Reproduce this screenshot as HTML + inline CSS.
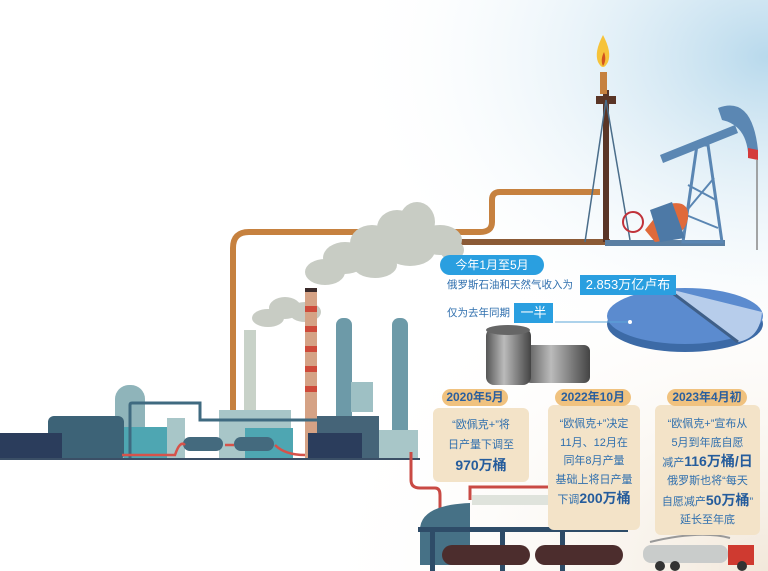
<!DOCTYPE html>
<html><head><meta charset="utf-8"><style>
html,body{margin:0;padding:0}
body{width:768px;height:571px;overflow:hidden;position:relative;font-family:"Liberation Sans","Noto Sans CJK SC",sans-serif;background:#fff}
.t{position:absolute;color:#2f6fae;white-space:nowrap}
.box{position:absolute;background:#f3e3c8;border-radius:6px}
.lab{position:absolute;background:#f0c27f;border-radius:10px;color:#2a5f9e;font-weight:bold;font-size:12px;text-align:center;line-height:17px}
.c{text-align:center;font-size:11px;line-height:18.5px}
b{font-size:14px;color:#255c9c}
</style></head><body>
<svg width="768" height="571" style="position:absolute;left:0;top:0">
<defs>
<radialGradient id="sky" cx="1" cy="0.1" r="0.55"><stop offset="0" stop-color="#b8d9ec"/><stop offset="1" stop-color="#fff" stop-opacity="0"/></radialGradient>
<radialGradient id="beige" cx="1" cy="1" r="0.6"><stop offset="0" stop-color="#f2e8da"/><stop offset="1" stop-color="#fff" stop-opacity="0"/></radialGradient>
<linearGradient id="bar" x1="0" y1="0" x2="1" y2="0"><stop offset="0" stop-color="#555"/><stop offset="0.4" stop-color="#bbb"/><stop offset="1" stop-color="#444"/></linearGradient>
</defs>
<rect x="0" y="0" width="768" height="571" fill="url(#beige)"/>
<rect x="0" y="0" width="768" height="571" fill="url(#sky)"/>
<!-- copper pipe -->
<path d="M233 410 V248 Q233 232 249 232 H480 Q492 232 492 222 V200 Q492 192 500 192 H600" fill="none" stroke="#c6813f" stroke-width="6"/>
<path d="M455 242 H610" stroke="#8b5a36" stroke-width="6"/>
<!-- derrick -->
<rect x="603" y="90" width="6" height="152" fill="#5a3526"/>
<rect x="596" y="96" width="20" height="8" fill="#5a3526"/>
<rect x="600" y="72" width="7" height="22" fill="#c6813f"/>
<path d="M603 35 Q594 52 598 62 Q603 72 608 62 Q612 52 603 35Z" fill="#f6c33a"/>
<path d="M604 52 Q600 60 603 66 Q607 60 604 52Z" fill="#d2531f"/>
<line x1="606" y1="100" x2="585" y2="242" stroke="#4a6d8a" stroke-width="1.5"/>
<line x1="606" y1="100" x2="630" y2="240" stroke="#4a6d8a" stroke-width="1.5"/>
<!-- pumpjack -->
<rect x="605" y="240" width="120" height="6" fill="#5a7fa3"/>
<path d="M697 145 L708 145 L722 242 L683 242Z" fill="none" stroke="#5a86b3" stroke-width="3"/>
<path d="M688 185 L716 200 M686 215 L718 228 M714 178 L683 215" stroke="#5a86b3" stroke-width="2"/>
<path d="M660 155 L735 125 L738 133 L663 163Z" fill="#5b87b3"/>
<path d="M718 108 Q752 95 758 150 L748 152 Q745 125 722 120Z" fill="#5b87b3"/>
<path d="M748 148 L758 150 L758 160 L748 158Z" fill="#d43a3a"/>
<line x1="757" y1="160" x2="757" y2="250" stroke="#888" stroke-width="1.5"/>
<path d="M665 205 Q690 198 688 218 Q685 238 655 242 L645 230Z" fill="#e06a3a"/>
<circle cx="633" cy="222" r="10" fill="none" stroke="#c0323a" stroke-width="2"/>
<path d="M650 210 L672 202 L685 238 L660 242Z" fill="#4d79a6"/>
<!-- smoke -->
<g fill="#c8ccc4">
<ellipse cx="325" cy="272" rx="20" ry="13"/><ellipse cx="345" cy="258" rx="22" ry="16"/><ellipse cx="372" cy="243" rx="22" ry="18"/><ellipse cx="397" cy="228" rx="20" ry="18"/><ellipse cx="417" cy="222" rx="18" ry="20"/><ellipse cx="375" cy="265" rx="22" ry="13"/><ellipse cx="410" cy="250" rx="25" ry="16"/><ellipse cx="440" cy="240" rx="22" ry="15"/><ellipse cx="452" cy="250" rx="12" ry="10"/>
<ellipse cx="268" cy="318" rx="16" ry="9"/><ellipse cx="285" cy="308" rx="16" ry="11"/><ellipse cx="305" cy="312" rx="16" ry="10"/>
</g>
<!-- factory -->
<rect x="244" y="330" width="12" height="130" fill="#c8d2c8"/>
<rect x="219" y="410" width="72" height="50" fill="#a8c6c8"/>
<rect x="305" y="290" width="12" height="170" fill="#d5a285"/>
<rect x="305" y="288" width="12" height="4" fill="#3a2a2a"/>
<g fill="#cf4a3a"><rect x="305" y="306" width="12" height="6"/><rect x="305" y="326" width="12" height="6"/><rect x="305" y="346" width="12" height="6"/><rect x="305" y="366" width="12" height="6"/><rect x="305" y="386" width="12" height="6"/></g>
<rect x="336" y="318" width="16" height="140" rx="7" fill="#6d9aa8"/>
<rect x="351" y="382" width="22" height="30" fill="#9ec0c4"/>
<rect x="392" y="318" width="16" height="140" rx="7" fill="#6d9aa8"/>
<rect x="378" y="430" width="40" height="30" fill="#a8c6c8"/>
<rect x="317" y="416" width="62" height="44" fill="#456478"/>
<rect x="308" y="433" width="54" height="27" fill="#2b3d5c"/>
<rect x="115" y="385" width="30" height="75" rx="14" fill="#8fb4ba"/>
<rect x="48" y="416" width="76" height="44" rx="6" fill="#3d6377"/>
<rect x="0" y="433" width="62" height="27" fill="#2b3d5c"/>
<rect x="124" y="427" width="48" height="33" fill="#4ea6b2"/>
<rect x="167" y="418" width="18" height="42" fill="#a8c6c8"/>
<rect x="245" y="428" width="48" height="32" fill="#4ea6b2"/>
<path d="M130 405 V405 M130 460 V405 Q130 403 132 403 H200 V420 H320" fill="none" stroke="#3f6a80" stroke-width="3"/>
<rect x="183" y="437" width="40" height="14" rx="7" fill="#446a7e"/>
<rect x="234" y="437" width="40" height="14" rx="7" fill="#446a7e"/>
<path d="M122 455 H175 Q180 440 185 445 M225 445 H234 M275 445 Q285 455 305 455" fill="none" stroke="#d6524a" stroke-width="2.5"/>
<rect x="0" y="458" width="420" height="2" fill="#3b4f66"/>
<!-- red pipe to train -->
<path d="M411 452 V480 Q411 488 420 488 H435 Q440 488 440 495 V520" fill="none" stroke="#c94a44" stroke-width="3"/>
<!-- train -->
<path d="M420 530 Q420 505 470 503 L470 565 H420Z" fill="#467186"/>
<rect x="472" y="495" width="125" height="10" fill="#dfe3dc"/>
<rect x="418" y="527" width="210" height="5" fill="#2e4c68"/>
<rect x="430" y="532" width="5" height="39" fill="#2e4c68"/><rect x="500" y="532" width="5" height="39" fill="#2e4c68"/><rect x="560" y="532" width="5" height="39" fill="#2e4c68"/>
<path d="M470 500 V487 H570 V525" fill="none" stroke="#c94a44" stroke-width="3"/>
<rect x="442" y="545" width="88" height="20" rx="10" fill="#4c2d2d"/>
<rect x="535" y="545" width="88" height="20" rx="10" fill="#4c2d2d"/>
<!-- truck -->
<path d="M650 542 Q700 530 730 538" stroke="#999" stroke-width="2" fill="none"/>
<rect x="643" y="545" width="85" height="18" rx="8" fill="#c9cccb"/>
<rect x="728" y="545" width="26" height="20" fill="#cf3a30"/>
<circle cx="660" cy="566" r="5" fill="#333"/><circle cx="675" cy="566" r="5" fill="#333"/><circle cx="742" cy="566" r="5" fill="#333"/>
<!-- pie -->
<ellipse cx="685" cy="324" rx="78" ry="28" fill="#3c6aa6"/>
<ellipse cx="685" cy="316" rx="78" ry="28" fill="#5b8bcf"/>
<path d="M665 288 L762 312 Q760 338 738 342Z" fill="#b7cdeb"/>
<line x1="666" y1="288" x2="738" y2="342" stroke="#3f5f88" stroke-width="3"/>
<line x1="555" y1="322" x2="630" y2="322" stroke="#5ba5d8" stroke-width="1"/>
<circle cx="630" cy="322" r="2" fill="#fff"/>
<!-- barrels -->
<rect x="525" y="345" width="65" height="38" rx="6" fill="url(#bar)"/>
<rect x="486" y="328" width="45" height="57" rx="8" fill="url(#bar)"/>
<ellipse cx="508" cy="330" rx="22" ry="5" fill="#666"/>
</svg>
<div class="t" style="left:440px;top:255px;width:104px;height:20px;background:#2a9fe0;border-radius:10px;color:#fff;font-size:12px;line-height:20px;text-align:center">今年1月至5月</div>
<div class="t" style="left:447px;top:277px;font-size:10.5px;line-height:16px">俄罗斯石油和天然气收入为</div>
<div class="t" style="left:580px;top:275px;width:96px;height:20px;background:#2a9fe0;color:#fff;font-size:13px;line-height:20px;text-align:center">2.853万亿卢布</div>
<div class="t" style="left:447px;top:305px;font-size:10.5px;line-height:16px">仅为去年同期</div>
<div class="t" style="left:514px;top:303px;width:39px;height:20px;background:#2a9fe0;color:#fff;font-size:13px;line-height:20px;text-align:center">一半</div>
<div class="box" style="left:433px;top:408px;width:96px;height:74px"></div>
<div class="box" style="left:548px;top:405px;width:92px;height:125px"></div>
<div class="box" style="left:655px;top:405px;width:105px;height:130px"></div>
<div class="lab" style="left:442px;top:389px;width:66px">2020年5月</div>
<div class="lab" style="left:555px;top:389px;width:76px">2022年10月</div>
<div class="lab" style="left:667px;top:389px;width:80px">2023年4月初</div>
<div class="t c" style="left:433px;top:415px;width:96px;line-height:20px">“欧佩克+”将<br>日产量下调至<br><b>970万桶</b></div>
<div class="t c" style="left:548px;top:415px;width:92px">“欧佩克+”决定<br>11月、12月在<br>同年8月产量<br>基础上将日产量<br>下调<b>200万桶</b></div>
<div class="t c" style="left:655px;top:415px;width:105px">“欧佩克+”宣布从<br>5月到年底自愿<br>减产<b>116万桶/日</b></div>
<div class="t c" style="left:655px;top:472px;width:105px">俄罗斯也将“每天<br>自愿减产<b>50万桶</b>”<br>延长至年底</div>
</body></html>
